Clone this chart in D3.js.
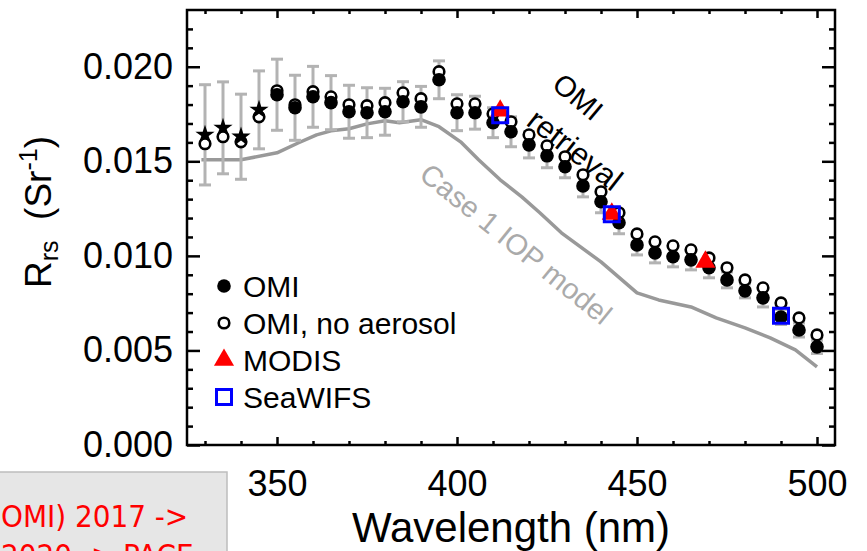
<!DOCTYPE html>
<html>
<head>
<meta charset="utf-8">
<script src="https://cdn.jsdelivr.net/npm/d3@7"></script>
<style>
  html, body { margin: 0; padding: 0; background: #fff; overflow: hidden; }
  svg { display: block; font-family: "Liberation Sans", Arial, sans-serif; }
</style>
</head>
<body>
<svg id="chart" width="867" height="551"></svg>
<script>
// OMI Rrs spectrum vs MODIS / SeaWiFS and the Case 1 IOP model

// -------- data --------
const wavelengths = [330,335,340,345,350,355,360,365,370,375,380,385,390,395,400,405,410,415,
                     420,425,430,435,440,445,450,455,460,465,470,475,480,485,490,495,500];
const omi = [0.01640,0.01677,0.01630,0.01772,0.01852,0.01783,0.01841,0.01810,0.01762,0.01757,
             0.01762,0.01815,0.01788,0.01931,0.01757,0.01757,0.01704,0.01656,0.01587,0.01529,
             0.01471,0.01370,0.01286,0.01175,0.01058,0.01016,0.00995,0.00979,0.00937,0.00873,
             0.00815,0.00778,0.00677,0.00608,0.00519];
const omiNoAerosol = [0.01593,0.01630,0.01603,0.01735,0.01873,0.01799,0.01868,0.01841,0.01799,0.01794,
                      0.01810,0.01862,0.01831,0.01974,0.01804,0.01804,0.01751,0.01709,0.01640,0.01582,
                      0.01524,0.01429,0.01339,0.01228,0.01116,0.01074,0.01053,0.01032,0.00989,0.00937,
                      0.00873,0.00831,0.00751,0.00672,0.00582];
const omiErr = [0.00265,0.00243,0.00225,0.00206,0.00188,0.00172,0.00161,0.00143,0.00140,0.00132,
                0.00124,0.00106,0.00108,0.00100,0.00095,0.00087,0.00079,0.00079,0.00069,0.00063,
                0.00058,0.00058,0.00058,0.00058,0.00053,0.00053,0.00053,0.00053,0.00053,0.00042,
                0.00037,0.00048,0.00040,0.00037,0.00035];
const starWavelengths = [330,335,340,345];   // drawn as stars instead of dots

const modelWl  = [329,340,350,356,361,365,370,375,380,384,390,395,401,406,412,418,423,429,440,450,456,465,472,480,487,494,500];
const modelRrs = [0.01508,0.01508,0.01545,0.01598,0.01640,0.01661,0.01672,0.01698,0.01714,0.01704,
                  0.01720,0.01683,0.01603,0.01508,0.01402,0.01312,0.01228,0.01122,0.00968,0.00804,
                  0.00767,0.00730,0.00672,0.00619,0.00566,0.00503,0.00413];

const modisWl    = [412, 443, 469];
const modisRrs   = [0.01767, 0.01222, 0.00968];
const seawifsWl  = [412, 443, 490];
const seawifsRrs = [0.01743, 0.01220, 0.00683];

const xMajor = [350, 400, 450, 500];
const yMajor = [0, 0.005, 0.010, 0.015, 0.020];
const legendItems = ['OMI', 'OMI, no aerosol', 'MODIS', 'SeaWIFS'];

// -------- setup --------
const svg = d3.select('#chart');
const L = 187, R = 835, T = 10, B = 445;
const x = d3.scaleLinear().domain([325, 505]).range([L, R]);
const y = d3.scaleLinear().domain([0, 0.023]).range([B, T]);

const GRAY = '#b3b3b3';
const rows = wavelengths.map((w, i) => ({ w, omi: omi[i], noaer: omiNoAerosol[i], err: omiErr[i] }));

// -------- axes (ticks inward on all four sides) --------
const xMinor = d3.range(330, 505, 10).filter(v => !xMajor.includes(v));
const yMinor = d3.range(1, 23).map(i => i / 1000).filter(v => !yMajor.some(m => Math.abs(m - v) < 1e-9));

function axis(gen, tr) {
  const g = svg.append('g').attr('transform', tr).call(gen);
  g.select('.domain').remove();
  g.selectAll('.tick line').attr('stroke', '#000').attr('stroke-width', 2.5);
  return g;
}
const noLab = () => '';

axis(d3.axisBottom(x).tickValues(xMajor).tickSize(-8).tickPadding(25).tickFormat(d3.format('d')), `translate(0,${B})`)
  .selectAll('text').attr('font-size', 36).attr('fill', '#000').attr('font-family', 'Liberation Sans, Arial, sans-serif');
axis(d3.axisBottom(x).tickValues(xMinor).tickSize(-4).tickFormat(noLab), `translate(0,${B})`);
axis(d3.axisTop(x).tickValues(xMajor).tickSize(-8).tickFormat(noLab), `translate(0,${T})`);
axis(d3.axisTop(x).tickValues(xMinor).tickSize(-4).tickFormat(noLab), `translate(0,${T})`);

axis(d3.axisLeft(y).tickValues(yMajor).tickSize(-13).tickPadding(14).tickFormat(d3.format('.3f')), `translate(${L},0)`)
  .selectAll('text').attr('font-size', 36).attr('fill', '#000').attr('font-family', 'Liberation Sans, Arial, sans-serif');
axis(d3.axisLeft(y).tickValues(yMinor).tickSize(-6).tickFormat(noLab), `translate(${L},0)`);
axis(d3.axisRight(y).tickValues(yMajor).tickSize(-13).tickFormat(noLab), `translate(${R},0)`);
axis(d3.axisRight(y).tickValues(yMinor).tickSize(-6).tickFormat(noLab), `translate(${R},0)`);

svg.append('rect')
  .attr('x', L).attr('y', T).attr('width', R - L).attr('height', B - T)
  .attr('fill', 'none').attr('stroke', '#000').attr('stroke-width', 2.5);

// axis titles
svg.append('text')
  .attr('x', (L + R) / 2).attr('y', 542)
  .attr('text-anchor', 'middle').attr('font-size', 42)
  .text('Wavelength (nm)');

const yl = svg.append('text')
  .attr('transform', 'translate(51,212) rotate(-90)')
  .attr('text-anchor', 'middle').attr('font-size', 37);
yl.append('tspan').text('R');
yl.append('tspan').attr('font-size', 25).attr('dy', 7).text('rs');
yl.append('tspan').attr('dy', -7).text('\u00a0\u00a0(Sr');
yl.append('tspan').attr('font-size', 25).attr('dy', -14).text('-1');
yl.append('tspan').attr('dy', 14).text(')');

// -------- model line --------
svg.append('path')
  .datum(modelWl.map((w, i) => [w, modelRrs[i]]))
  .attr('fill', 'none').attr('stroke', '#999').attr('stroke-width', 3.5)
  .attr('stroke-linejoin', 'round')
  .attr('d', d3.line().x(d => x(d[0])).y(d => y(d[1])));

// -------- error bars --------
const eb = svg.append('g').attr('stroke', GRAY).attr('stroke-width', 3);
eb.selectAll('line.v').data(rows).join('line')
  .attr('x1', d => x(d.w)).attr('x2', d => x(d.w))
  .attr('y1', d => y(d.omi + d.err)).attr('y2', d => y(d.omi - d.err));
eb.selectAll('line.t').data(rows).join('line')
  .attr('x1', d => x(d.w) - 6).attr('x2', d => x(d.w) + 6)
  .attr('y1', d => y(d.omi + d.err)).attr('y2', d => y(d.omi + d.err));
eb.selectAll('line.b').data(rows).join('line')
  .attr('x1', d => x(d.w) - 6).attr('x2', d => x(d.w) + 6)
  .attr('y1', d => y(d.omi - d.err)).attr('y2', d => y(d.omi - d.err));

// -------- annotations --------
svg.append('text')
  .attr('transform', 'translate(516,244) rotate(39)')
  .attr('text-anchor', 'middle').attr('dominant-baseline', 'central')
  .attr('font-size', 29).attr('fill', '#aaaaaa')
  .text('Case 1 IOP model');
svg.append('text')
  .attr('transform', 'translate(578,97) rotate(40)')
  .attr('text-anchor', 'middle').attr('dominant-baseline', 'central')
  .attr('font-size', 29).text('OMI');
svg.append('text')
  .attr('transform', 'translate(575,150) rotate(38)')
  .attr('text-anchor', 'middle').attr('dominant-baseline', 'central')
  .attr('font-size', 31).text('retrieval');

// -------- markers --------
const openCircle = (sel) => sel.attr('r', 5.3).attr('fill', '#fff').attr('stroke', '#000').attr('stroke-width', 2.6);
svg.append('g').selectAll('circle').data(rows).join('circle')
  .attr('cx', d => x(d.w)).attr('cy', d => y(d.noaer)).call(openCircle);

const dotRows  = rows.filter(d => !starWavelengths.includes(d.w));
const starRows = rows.filter(d => starWavelengths.includes(d.w));
svg.append('g').selectAll('circle').data(dotRows).join('circle')
  .attr('cx', d => x(d.w)).attr('cy', d => y(d.omi)).attr('r', 6.8).attr('fill', '#000');
svg.append('g').selectAll('path').data(starRows).join('path')
  .attr('transform', d => `translate(${x(d.w)},${y(d.omi)})`)
  .attr('d', d3.symbol(d3.symbolStar, 115)).attr('fill', '#000');

const tri = d3.symbol(d3.symbolTriangle, 175);
const sq  = d3.symbol(d3.symbolSquare, 225);
svg.append('g').selectAll('path').data(modisWl).join('path')
  .attr('transform', (d, i) => `translate(${x(d)},${y(modisRrs[i])})`)
  .attr('d', tri).attr('fill', '#ff0000');
svg.append('g').selectAll('path').data(seawifsWl).join('path')
  .attr('transform', (d, i) => `translate(${x(d)},${y(seawifsRrs[i])})`)
  .attr('d', sq).attr('fill', 'none').attr('stroke', '#0000ff').attr('stroke-width', 3);

// -------- legend --------
const lg = svg.append('g');
const ly = [286, 323, 360, 397];
legendItems.forEach((label, i) => {
  const row = lg.append('g').attr('transform', `translate(224,${ly[i]})`);
  if (i === 0) row.append('circle').attr('r', 6.8).attr('fill', '#000');
  if (i === 1) row.append('circle').call(openCircle);
  if (i === 2) row.append('path').attr('d', tri).attr('fill', '#ff0000');
  if (i === 3) row.append('path').attr('d', sq).attr('fill', 'none').attr('stroke', '#0000ff').attr('stroke-width', 3);
  row.append('text').attr('x', 19).attr('y', 11).attr('font-size', 30).text(label);
});

// -------- overlapping note box (bottom left, cut by the page edge) --------
svg.append('rect')
  .attr('x', -2).attr('y', 472).attr('width', 229).attr('height', 90)
  .attr('fill', '#e6e6e6').attr('stroke', '#bdbdbd').attr('stroke-width', 1.5);
const note = svg.append('text').attr('font-size', 31).attr('fill', '#ff0000')
  .attr('font-family', '"Liberation Sans Narrow", "DejaVu Sans Condensed", sans-serif');
note.append('tspan').attr('x', 1).attr('y', 527).text('OMI) 2017 ->');
note.append('tspan').attr('x', 1).attr('y', 566).text('2020 -> PACE');
</script>
</body>
</html>
